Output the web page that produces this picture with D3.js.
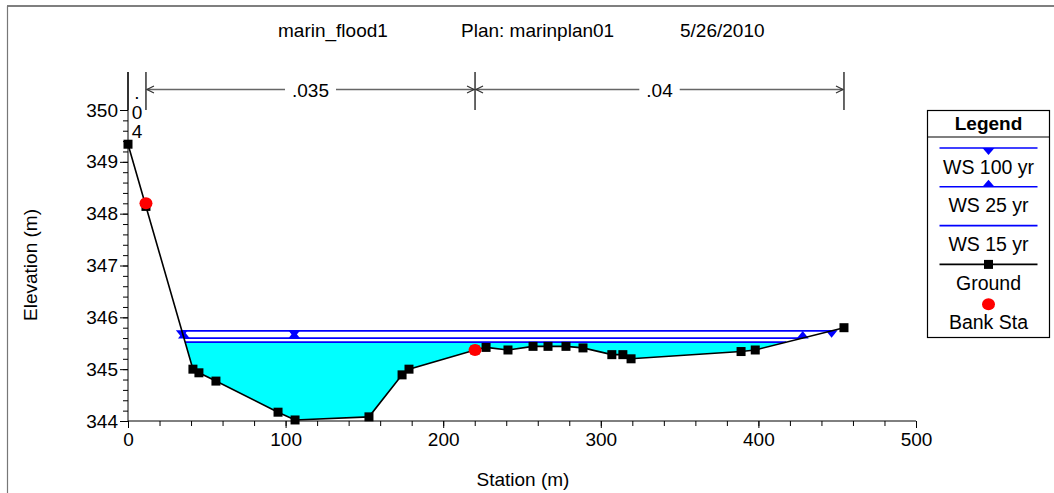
<!DOCTYPE html>
<html>
<head>
<meta charset="utf-8">
<script src="https://cdn.jsdelivr.net/npm/d3@7"></script>
<style>
  body { margin: 0; background: #fff; }
  text { font-family: Arial, 'Liberation Sans', sans-serif; }
</style>
</head>
<body>
<div id="xsection"></div>
<script>
// ground points (station m, elevation m)
const groundStation = [0, 11.4, 41.2, 45, 55.8, 95.2, 106, 152.9, 173.9, 178.3, 220.2, 227.2, 241.1, 257, 266.5, 277.9, 288.7, 307, 314, 319.2, 389, 398, 454.3];
const groundElev = [349.34, 348.14, 345.0, 344.93, 344.77, 344.17, 344.02, 344.08, 344.89, 345.0, 345.37, 345.42, 345.37, 345.44, 345.44, 345.44, 345.41, 345.28, 345.28, 345.2, 345.34, 345.37, 345.8];

// bank stations
const bankStation = [11.4, 220.2];
const bankElev = [348.2, 345.37];

// water surface profiles
const wsNames = ['WS 100 yr', 'WS 25 yr', 'WS 15 yr'];
const wsElev = [345.74, 345.6, 345.52];
const wsMarkerInner = [105.5, 105.5, null];

// manning's n regions
const nBreaks = [0, 11.4, 220.2, 454.3];
const nValues = ['.04', '.035', '.04'];

const xTicks = [0, 100, 200, 300, 400, 500];
const yTicks = [344, 345, 346, 347, 348, 349, 350];

const chartWidth = 1054;
const chartHeight = 493;

const svg = d3
    .select('#xsection')
    .append('svg')
    .attr('width', chartWidth)
    .attr('height', chartHeight);

// page frame
svg.append('line').attr('x1', 7).attr('x2', chartWidth).attr('y1', 6).attr('y2', 6)
    .attr('stroke', '#000').attr('stroke-width', 1.2);
svg.append('line').attr('x1', 7.5).attr('x2', 7.5).attr('y1', 6).attr('y2', chartHeight)
    .attr('stroke', '#777').attr('stroke-width', 1.2);

const x = d3.scaleLinear().domain([0, 500]).range([128, 916]);
const y = d3.scaleLinear().domain([344, 350]).range([421, 110]);

// title
const titleParts = [['marin_flood1', 278], ['Plan: marinplan01', 461], ['5/26/2010', 680]];
svg.selectAll('.title')
    .data(titleParts)
    .enter()
    .append('text')
    .attr('class', 'title')
    .attr('x', (d) => d[1])
    .attr('y', 37)
    .style('font-size', '19px')
    .text((d) => d[0]);

const ground = groundStation.map((s, i) => ({ s: s, z: groundElev[i] }));

// where a water surface meets the ground, left and right
function crossings(ws) {
    const out = [];
    for (let i = 0; i < ground.length - 1; i++) {
        const a = ground[i], b = ground[i + 1];
        if ((a.z - ws) * (b.z - ws) < 0) {
            out.push(a.s + (ws - a.z) / (b.z - a.z) * (b.s - a.s));
        }
    }
    return [out[0], out[out.length - 1]];
}

// water fill under lowest profile
const fillWs = wsElev[2];
const fillEnds = crossings(fillWs);
const fillPts = [{ s: fillEnds[0], z: fillWs }]
    .concat(ground.filter((d) => d.s > fillEnds[0] && d.s < fillEnds[1]))
    .concat([{ s: fillEnds[1], z: fillWs }]);

svg.append('path')
    .datum(fillPts)
    .attr('fill', '#00ffff')
    .attr('d', d3.area().x((d) => x(d.s)).y0((d) => y(d.z)).y1(y(fillWs)));

// water surface lines
wsElev.forEach((ws, i) => {
    const ends = crossings(ws);
    svg.append('line')
        .attr('x1', x(ends[0])).attr('x2', x(ends[1]))
        .attr('y1', y(ws)).attr('y2', y(ws))
        .attr('stroke', '#0000ff')
        .attr('stroke-width', 1.8);
    if (i < 2) {
        const marks = [ends[0], wsMarkerInner[i], ends[1]];
        svg.selectAll('.wsmark' + i)
            .data(marks)
            .enter()
            .append('path')
            .attr('class', 'wsmark' + i)
            .attr('transform', (d) => `translate(${x(d)},${y(ws)})`)
            .attr('d', i === 0 ? 'M-6,-0.5L6,-0.5L0,7Z' : 'M-6,0.5L6,0.5L0,-7Z')
            .attr('fill', '#0000ff');
    }
});

// ground line
svg.append('path')
    .datum(ground)
    .attr('fill', 'none')
    .attr('stroke', '#000')
    .attr('stroke-width', 1.6)
    .attr('d', d3.line().x((d) => x(d.s)).y((d) => y(d.z)));

svg.selectAll('.groundPts')
    .data(ground)
    .enter()
    .append('rect')
    .attr('class', 'groundPts')
    .attr('x', (d) => x(d.s) - 4.5)
    .attr('y', (d) => y(d.z) - 4.5)
    .attr('width', 9)
    .attr('height', 9)
    .attr('fill', '#000');

svg.selectAll('.bankPts')
    .data(bankStation)
    .enter()
    .append('ellipse')
    .attr('class', 'bankPts')
    .attr('cx', (d) => x(d))
    .attr('cy', (d, i) => y(bankElev[i]))
    .attr('rx', 6.5)
    .attr('ry', 6)
    .attr('fill', '#ff0000');

// axes
const xAxis = svg.append('g').attr('transform', 'translate(0,421)');
xAxis.call(d3.axisBottom(x).tickValues(d3.range(0, 501, 20)).tickSize(5).tickFormat(''));
xAxis.call((g) => g.select('.domain').remove());
svg.append('g').attr('transform', 'translate(0,421)')
    .call(d3.axisBottom(x).tickValues(xTicks).tickSize(7).tickPadding(5).tickFormat(d3.format('d')))
    .call((g) => g.selectAll('text').style('font-size', '19px').attr('fill', '#000').style('font-family', 'Arial, Liberation Sans'))
    .call((g) => g.select('.domain').attr('d', `M${x(0)},0H${x(500)}`));

const yAxis = svg.append('g').attr('transform', 'translate(128,0)');
yAxis.call(d3.axisLeft(y).tickValues(d3.range(344, 350.01, 0.2)).tickSize(5).tickFormat(''));
yAxis.call((g) => g.select('.domain').remove());
svg.append('g').attr('transform', 'translate(128,0)')
    .call(d3.axisLeft(y).tickValues(yTicks).tickSize(8).tickPadding(2).tickFormat(d3.format('d')))
    .call((g) => g.selectAll('text').style('font-size', '19px').attr('fill', '#000').style('font-family', 'Arial, Liberation Sans'))
    .call((g) => g.select('.domain').attr('d', `M0,${y(344)}V72`));

svg.append('text')
    .attr('transform', 'translate(37,265) rotate(-90)')
    .style('text-anchor', 'middle')
    .style('font-size', '19px')
    .text('Elevation (m)');

svg.append('text')
    .attr('x', 523)
    .attr('y', 486)
    .style('text-anchor', 'middle')
    .style('font-size', '19px')
    .text('Station (m)');

// manning's n bars
const nTop = 72, nBottom = 110, nArrowY = 89.5;
svg.selectAll('.nbar')
    .data(nBreaks)
    .enter()
    .append('line')
    .attr('class', 'nbar')
    .attr('x1', (d) => x(d)).attr('x2', (d) => x(d))
    .attr('y1', nTop).attr('y2', nBottom)
    .attr('stroke', '#000')
    .attr('stroke-width', 1.2);

nValues.forEach((n, i) => {
    const a = x(nBreaks[i]), b = x(nBreaks[i + 1]);
    const mid = (a + b) / 2;
    if (b - a < 40) {
        // too narrow: stack the characters
        svg.append('text')
            .attr('x', mid)
            .style('text-anchor', 'middle')
            .style('font-size', '19px')
            .selectAll('tspan')
            .data(n.split(''))
            .enter()
            .append('tspan')
            .attr('x', mid)
            .attr('y', (d, k) => 99 + k * 19.5)
            .text((d) => d);
        return;
    }
    const label = svg.append('text')
        .attr('x', mid)
        .attr('y', 96.5)
        .style('text-anchor', 'middle')
        .style('font-size', '19px')
        .text(n);
    const half = label.node().getComputedTextLength() / 2 + 7;
    [[a, mid - half], [mid + half, b]].forEach((seg) => {
        svg.append('line')
            .attr('x1', seg[0]).attr('x2', seg[1])
            .attr('y1', nArrowY).attr('y2', nArrowY)
            .attr('stroke', '#666')
            .attr('stroke-width', 1.3);
    });
    svg.append('path')
        .attr('d', `M${a + 8},${nArrowY - 3.5}L${a + 1},${nArrowY}L${a + 8},${nArrowY + 3.5}`)
        .attr('fill', 'none').attr('stroke', '#333').attr('stroke-width', 1.2);
    svg.append('path')
        .attr('d', `M${b - 8},${nArrowY - 3.5}L${b - 1},${nArrowY}L${b - 8},${nArrowY + 3.5}`)
        .attr('fill', 'none').attr('stroke', '#333').attr('stroke-width', 1.2);
});

// legend
const legend = svg.append('g').attr('transform', 'translate(927.5,110.5)');
legend.append('rect').attr('width', 122).attr('height', 227)
    .attr('fill', '#fff').attr('stroke', '#000').attr('stroke-width', 1.2);
legend.append('line').attr('x1', 0).attr('x2', 122).attr('y1', 26.5).attr('y2', 26.5)
    .attr('stroke', '#000').attr('stroke-width', 1.2);
legend.append('text').attr('x', 61).attr('y', 19.5)
    .style('text-anchor', 'middle').style('font-size', '19px').style('font-weight', 'bold')
    .text('Legend');

const legendNames = wsNames.concat(['Ground', 'Bank Sta']);
const legendMark = ['down', 'up', 'none', 'square', 'dot'];
legendNames.forEach((name, i) => {
    const ly = 37.5 + i * 38.8;
    if (legendMark[i] !== 'dot') {
        legend.append('line').attr('x1', 12).attr('x2', 110).attr('y1', ly).attr('y2', ly)
            .attr('stroke', i < 3 ? '#0000ff' : '#000').attr('stroke-width', 1.6);
    }
    if (legendMark[i] === 'down') {
        legend.append('path').attr('d', `M55,${ly}L67,${ly}L61,${ly + 7}Z`).attr('fill', '#0000ff');
    } else if (legendMark[i] === 'up') {
        legend.append('path').attr('d', `M55,${ly}L67,${ly}L61,${ly - 7}Z`).attr('fill', '#0000ff');
    } else if (legendMark[i] === 'square') {
        legend.append('rect').attr('x', 56.5).attr('y', ly - 4.5).attr('width', 9).attr('height', 9).attr('fill', '#000');
    } else if (legendMark[i] === 'dot') {
        legend.append('ellipse').attr('cx', 61).attr('cy', ly + 1).attr('rx', 6.5).attr('ry', 6).attr('fill', '#ff0000');
    }
    legend.append('text').attr('x', 61).attr('y', ly + 25.5)
        .style('text-anchor', 'middle').style('font-size', '19.5px')
        .text(name);
});
</script>
</body>
</html>
